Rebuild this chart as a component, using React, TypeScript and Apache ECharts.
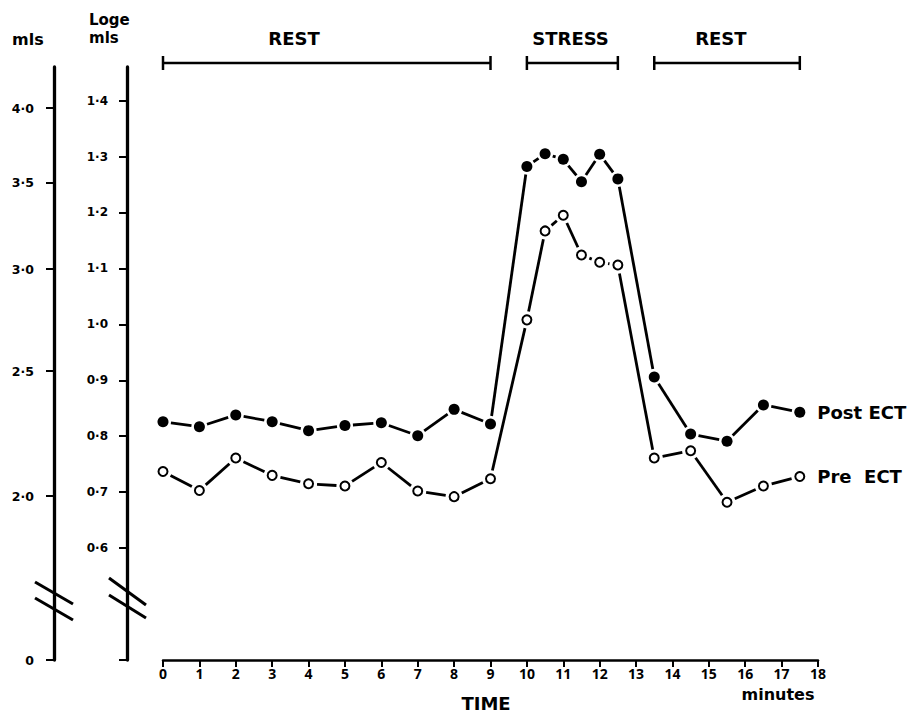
import React, { useEffect, useRef } from 'react';
import * as echarts from 'echarts';

// Time (minutes) at which each measurement was taken
const timePoints = [0, 1, 2, 3, 4, 5, 6, 7, 8, 9, 10, 10.5, 11, 11.5, 12, 12.5, 13.5, 14.5, 15.5, 16.5, 17.5];
// Loge mls values
const postECT = [0.826, 0.817, 0.838, 0.826, 0.81, 0.819, 0.824, 0.801, 0.848, 0.822, 1.282, 1.305, 1.295, 1.255, 1.304, 1.26, 0.906, 0.804, 0.791, 0.856, 0.843];
const preECT = [0.737, 0.703, 0.761, 0.73, 0.715, 0.711, 0.753, 0.702, 0.692, 0.724, 1.008, 1.167, 1.195, 1.124, 1.111, 1.106, 0.761, 0.774, 0.682, 0.711, 0.728];

// Axis ticks
const logeTicks = [0.6, 0.7, 0.8, 0.9, 1.0, 1.1, 1.2, 1.3, 1.4];
const mlsTicks = [2.0, 2.5, 3.0, 3.5, 4.0];
const axisBase = 0.4; // broken-axis origin (labelled 0 on mls axis)
const axisTop = 1.46;
const xTicks = [0, 1, 2, 3, 4, 5, 6, 7, 8, 9, 10, 11, 12, 13, 14, 15, 16, 17, 18];

// Phases
const phaseNames = ['REST', 'STRESS', 'REST'];
const phaseStarts = [0, 10, 13.5];
const phaseEnds = [9, 12.5, 17.5];
const phaseLabelAt = [3.6, 11.2, 15.33];

const FONT = '"DejaVu Sans", "Open Sans", sans-serif';
const NUMFONT = '"Open Sans", "DejaVu Sans", sans-serif';

export default function App() {
  const ref = useRef<HTMLDivElement>(null);
  useEffect(() => {
    document.body.style.margin = '0';
    const chart = echarts.init(ref.current!, null, { renderer: 'svg' });
    const dot = (v: number) => v.toFixed(1).replace('.', '·');
    const last = timePoints.length - 1;
    const pts = (vals: number[], name: string) =>
      timePoints.map((t, i) =>
        i === last
          ? {
              value: [t, vals[i]],
              label: {
                show: true, formatter: name, position: 'right', distance: 12, color: '#000',
                fontFamily: FONT, fontSize: 18, fontWeight: 'bold',
              },
            }
          : [t, vals[i]]
      );
    const segs = (vals: number[]) =>
      timePoints.slice(1).map((t, i) => [timePoints[i], vals[i], t, vals[i + 1]]);
    const phaseData = phaseNames.map((n, i) => [phaseStarts[i], phaseEnds[i], phaseLabelAt[i], i]);

    const segmentSeries = (vals: number[], gap: number) => ({
      type: 'custom',
      data: segs(vals),
      encode: { x: [0, 2], y: [1, 3] },
      z: 2,
      silent: true,
      renderItem: (params: any, api: any) => {
        const p1 = api.coord([api.value(0), api.value(1)]);
        const p2 = api.coord([api.value(2), api.value(3)]);
        const dx = p2[0] - p1[0];
        const dy = p2[1] - p1[1];
        const len = Math.sqrt(dx * dx + dy * dy);
        if (len <= gap * 2 + 1) return null;
        const ux = dx / len;
        const uy = dy / len;
        return {
          type: 'line',
          shape: {
            x1: p1[0] + ux * gap, y1: p1[1] + uy * gap,
            x2: p2[0] - ux * gap, y2: p2[1] - uy * gap,
          },
          style: { stroke: '#000', lineWidth: 2.8, lineCap: 'butt' },
        };
      },
    });

    const option: any = {
      animation: false,
      backgroundColor: '#fff',
      textStyle: { fontFamily: FONT, color: '#000' },
      grid: { left: 163, right: 89, top: 67, bottom: 55 },
      xAxis: {
        type: 'value',
        min: 0,
        max: 18,
        interval: 1,
        axisLine: { show: true, onZero: false, lineStyle: { color: '#000', width: 2.5 } },
        axisTick: { show: true, length: 7, lineStyle: { color: '#000', width: 2 }, customValues: xTicks },
        axisLabel: {
          customValues: xTicks,
          color: '#000', fontFamily: NUMFONT, fontSize: 14, fontWeight: 'bold', margin: 6,
          formatter: (v: number) => String(v),
        },
        splitLine: { show: false },
      },
      yAxis: [
        {
          type: 'value',
          min: axisBase,
          max: axisTop,
          position: 'left',
          offset: 36,
          axisLine: { show: true, onZero: false, lineStyle: { color: '#000', width: 3.3 } },
          axisTick: { show: true, length: 8, lineStyle: { color: '#000', width: 2 }, customValues: [axisBase, ...logeTicks] },
          axisLabel: {
            customValues: logeTicks,
            color: '#000', fontFamily: FONT, fontSize: 12, fontWeight: 'bold', margin: 19,
            formatter: (v: number) => dot(v),
          },
          splitLine: { show: false },
        },
        {
          type: 'value',
          min: axisBase,
          max: axisTop,
          position: 'left',
          offset: 109,
          axisLine: { show: true, onZero: false, lineStyle: { color: '#000', width: 3.3 } },
          axisTick: { show: true, length: 8, lineStyle: { color: '#000', width: 2 }, customValues: [axisBase, ...mlsTicks.map((m) => Math.log(m))] },
          axisLabel: {
            customValues: [axisBase, ...mlsTicks.map((m) => Math.log(m))],
            color: '#000', fontFamily: FONT, fontSize: 12.5, fontWeight: 'bold', margin: 20,
            formatter: (v: number) => (v <= axisBase + 0.001 ? '0' : dot(Math.exp(v))),
          },
          splitLine: { show: false },
        },
      ],
      series: [
        segmentSeries(postECT, 8),
        segmentSeries(preECT, 8.5),
        {
          name: 'Post ECT',
          type: 'scatter', data: pts(postECT, 'Post ECT'), z: 4, symbol: 'circle', symbolSize: 11,
          itemStyle: { color: '#000', opacity: 1 },
        },
        {
          name: 'Pre ECT',
          type: 'scatter', data: pts(preECT, 'Pre  ECT'), z: 4, symbol: 'circle', symbolSize: 9,
          itemStyle: { color: '#fff', borderColor: '#000', borderWidth: 2, opacity: 1 },
        },
        {
          type: 'custom',
          data: phaseData,
          clip: false,
          silent: true,
          renderItem: (params: any, api: any) => {
            const x1 = api.coord([api.value(0), axisTop])[0];
            const x2 = api.coord([api.value(1), axisTop])[0];
            const xl = api.coord([api.value(2), axisTop])[0];
            const y = params.coordSys.y - 4;
            const idx = api.value(3);
            const ls = { stroke: '#000', lineWidth: 2.5 };
            return {
              type: 'group',
              children: [
                { type: 'line', shape: { x1, y1: y, x2, y2: y }, style: ls },
                { type: 'line', shape: { x1, y1: y - 7, x2: x1, y2: y + 7 }, style: ls },
                { type: 'line', shape: { x1: x2, y1: y - 7, x2, y2: y + 7 }, style: ls },
                {
                  type: 'text', x: xl, y: y - 25,
                  style: {
                    text: phaseNames[idx], fill: '#000', font: `bold 18px ${FONT}`,
                    textAlign: 'center', textVerticalAlign: 'middle',
                  },
                },
              ],
            };
          },
        },
      ],
      graphic: [
        { type: 'text', x: 12, y: 39, style: { text: 'mls', fill: '#000', font: `bold 16px ${FONT}`, textAlign: 'left', textVerticalAlign: 'middle' } },
        { type: 'text', x: 89, y: 20, style: { text: 'Loge', fill: '#000', font: `bold 15px ${FONT}`, textAlign: 'left', textVerticalAlign: 'middle' } },
        { type: 'text', x: 89, y: 38, style: { text: 'mls', fill: '#000', font: `bold 15px ${FONT}`, textAlign: 'left', textVerticalAlign: 'middle' } },
        { type: 'text', x: 486, y: 703, style: { text: 'TIME', fill: '#000', font: `bold 18px ${FONT}`, textAlign: 'center', textVerticalAlign: 'middle' } },
        { type: 'text', x: 778, y: 694, style: { text: 'minutes', fill: '#000', font: `bold 16px ${FONT}`, textAlign: 'center', textVerticalAlign: 'middle' } },
        // axis break marks
        { type: 'line', shape: { x1: 35, y1: 582, x2: 73, y2: 604 }, style: { stroke: '#000', lineWidth: 3 } },
        { type: 'line', shape: { x1: 35, y1: 598, x2: 73, y2: 620 }, style: { stroke: '#000', lineWidth: 3 } },
        { type: 'line', shape: { x1: 109, y1: 578, x2: 146, y2: 605 }, style: { stroke: '#000', lineWidth: 3 } },
        { type: 'line', shape: { x1: 109, y1: 595, x2: 146, y2: 618 }, style: { stroke: '#000', lineWidth: 3 } },
      ],
    };
    chart.setOption(option);
    return () => chart.dispose();
  }, []);
  return <div ref={ref} style={{ width: 907, height: 715 }} />;
}
